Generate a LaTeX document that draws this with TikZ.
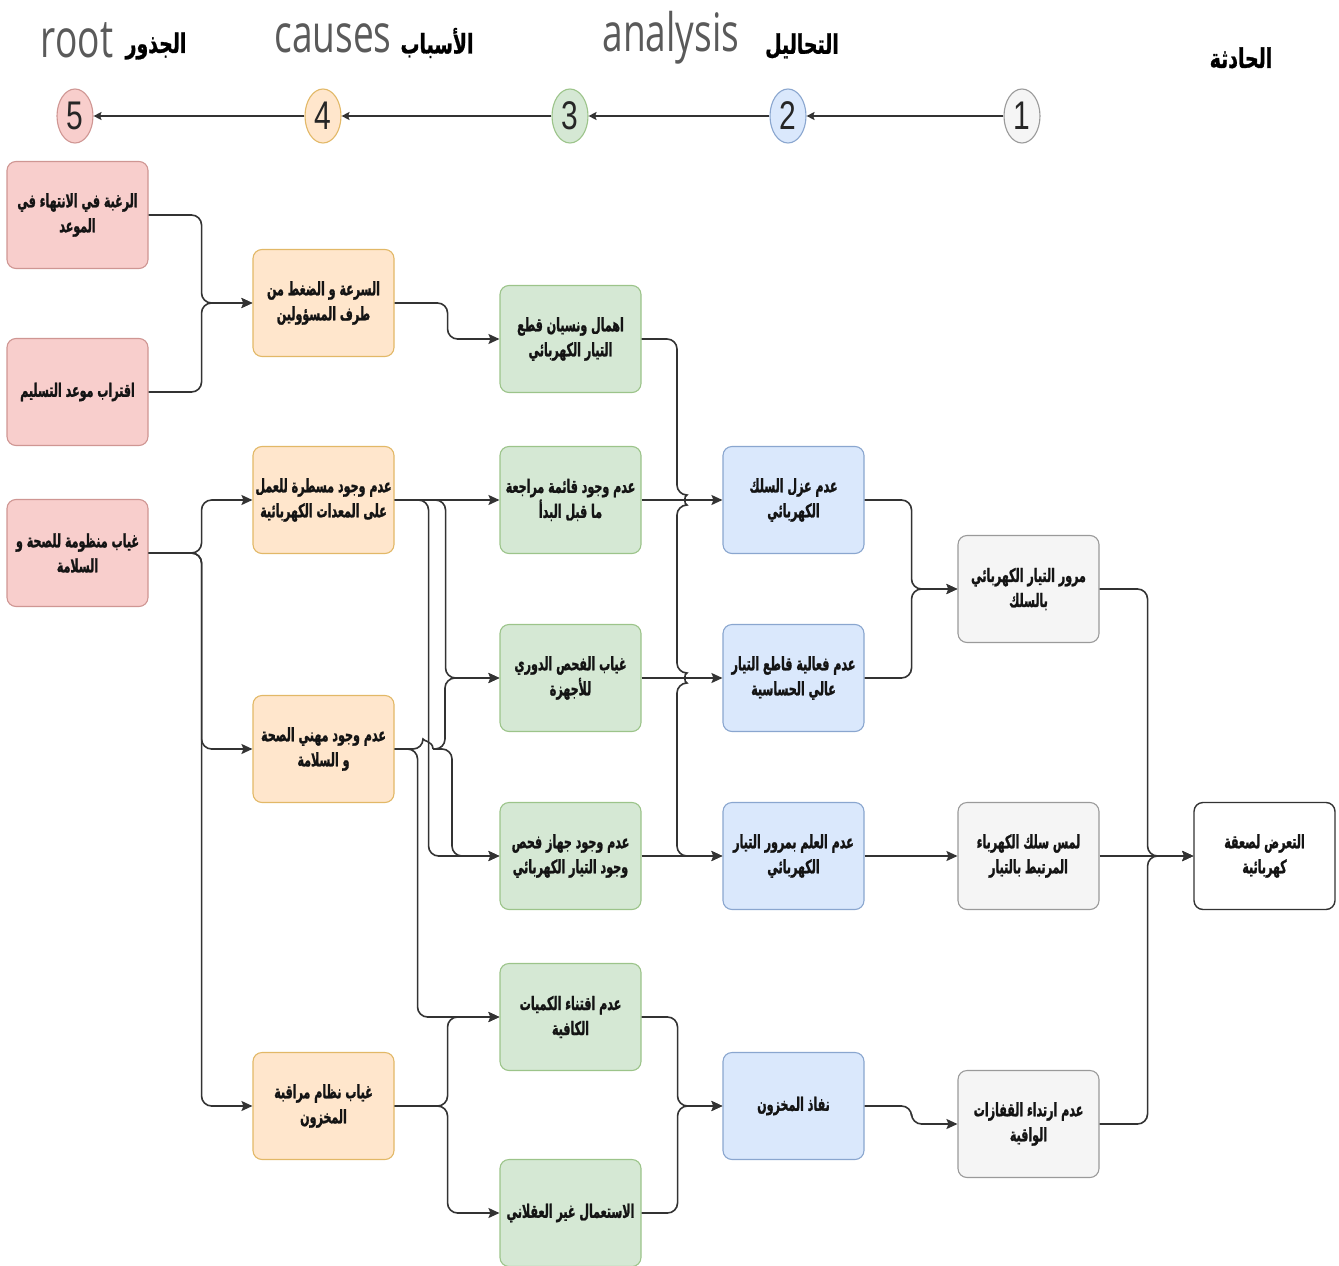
\documentclass[tikz,border=0pt]{standalone}
\usepackage{fontspec}
\usetikzlibrary{arrows.meta,shapes.geometric}
\TeXXeTstate=1
\newfontfamily\arabicfont[Script=Arabic,FakeStretch=0.6,BoldFeatures={FakeBold=1.3}]{DejaVu Sans}
\newfontfamily\arabichead[Script=Arabic,FakeStretch=0.7,BoldFeatures={FakeBold=1}]{DejaVu Sans}
\newfontfamily\headfont[FakeStretch=0.7]{Open Sans}
\newfontfamily\digitfont[FakeStretch=0.75]{Liberation Sans}
\newcommand{\RL}[1]{\beginR #1\endR}

\definecolor{pinkF}{HTML}{F8CECC}
\definecolor{pinkD}{HTML}{CF9693}
\definecolor{orangeF}{HTML}{FFE6CC}
\definecolor{orangeD}{HTML}{E2B867}
\definecolor{greenF}{HTML}{D5E8D4}
\definecolor{greenD}{HTML}{9CC48A}
\definecolor{blueF}{HTML}{DAE8FC}
\definecolor{blueD}{HTML}{8AA6CF}
\definecolor{grayF}{HTML}{F5F5F5}
\definecolor{grayD}{HTML}{9A9A9A}
\definecolor{lineC}{HTML}{333333}
\definecolor{headC}{HTML}{5A5A5A}

\tikzset{
  box/.style={draw, rounded corners=9pt, minimum width=141pt, minimum height=107pt,
    align=center, inner sep=1pt, line width=1.1pt, text=black!92,
    font=\arabicfont\bfseries\fontsize{18.5}{25}\selectfont},
  rootbox/.style={box, fill=pinkF, draw=pinkD},
  causebox/.style={box, fill=orangeF, draw=orangeD},
  anbox/.style={box, fill=greenF, draw=greenD},
  factbox/.style={box, fill=blueF, draw=blueD},
  evbox/.style={box, fill=grayF, draw=grayD},
  topbox/.style={box, fill=white, draw=lineC, line width=1.4pt},
  stage/.style={ellipse, draw, line width=1.1pt, minimum width=36pt, minimum height=54pt,
    inner sep=0pt, font=\digitfont\fontsize{40}{40}\selectfont, text=black!85},
  link/.style={draw=lineC, line width=1.6pt, rounded corners=10pt,
    -{Stealth[length=11pt,width=10pt,inset=2pt]}},
  trunk/.style={draw=lineC, line width=1.6pt, rounded corners=10pt},
  hlink/.style={draw=lineC, line width=1.5pt, -{Stealth[length=8pt,width=8pt,inset=1.5pt]}},
  engl/.style={font=\headfont\fontsize{53}{53}\selectfont, text=headC, inner sep=0pt},
  arhead/.style={font=\arabichead\bfseries\fontsize{27}{27}\selectfont, text=black, inner sep=0pt},
}

\begin{document}
\begin{tikzpicture}[x=1pt,y=-1pt]
\useasboundingbox (0,0) rectangle (1339,1266);

% column titles
\node[engl] (t5) at (77,40) {root};
\node[arhead] (a5) at (156,46) {\RL{الجذور}};
\node[engl] (t4) at (333,38) {causes};
\node[arhead] (a4) at (437,43) {\RL{الأسباب}};
\node[engl] (t3) at (671,38) {analysis};
\node[arhead] (a3) at (802,46) {\RL{التحاليل}};
\node[arhead] (a1) at (1241,58) {\RL{الحادثة}};

% stage markers
\node[stage, fill=pinkF, draw=pinkD] (c5) at (75,116) {5};
\node[stage, fill=orangeF, draw=orangeD] (c4) at (323,116) {4};
\node[stage, fill=greenF, draw=greenD] (c3) at (570,116) {3};
\node[stage, fill=blueF, draw=blueD] (c2) at (788,116) {2};
\node[stage, fill=grayF, draw=grayD] (c1) at (1022,116) {1};
\draw[hlink] (c1.west) -- (c2.east);
\draw[hlink] (c2.west) -- (c3.east);
\draw[hlink] (c3.west) -- (c4.east);
\draw[hlink] (c4.west) -- (c5.east);

% root causes
\node[rootbox] (r1) at (77.5,215) {\RL{الرغبة في الانتهاء في}\\\RL{الموعد}};
\node[rootbox] (r2) at (77.5,392) {\RL{اقتراب موعد التسليم}};
\node[rootbox] (r3) at (77.5,553) {\RL{غياب منظومة للصحة و}\\\RL{السلامة}};

% causes
\node[causebox] (o1) at (323.5,303) {\RL{السرعة و الضغط من}\\\RL{طرف المسؤولين}};
\node[causebox] (o2) at (323.5,500) {\RL{عدم وجود مسطرة للعمل}\\\RL{على المعدات الكهربائية}};
\node[causebox] (o3) at (323.5,749) {\RL{عدم وجود مهني الصحة}\\\RL{و السلامة}};
\node[causebox] (o4) at (323.5,1106) {\RL{غياب نظام مراقبة}\\\RL{المخزون}};

% analysis
\node[anbox] (g1) at (570.5,339) {\RL{اهمال ونسيان قطع}\\\RL{التيار الكهربائي}};
\node[anbox] (g2) at (570.5,500) {\RL{عدم وجود قائمة مراجعة}\\\RL{ما قبل البدأ}};
\node[anbox] (g3) at (570.5,678) {\RL{غياب الفحص الدوري}\\\RL{للأجهزة}};
\node[anbox] (g4) at (570.5,856) {\RL{عدم وجود جهاز فحص}\\\RL{وجود التيار  الكهربائي}};
\node[anbox] (g5) at (570.5,1017) {\RL{عدم اقتناء الكميات}\\\RL{الكافية}};
\node[anbox] (g6) at (570.5,1213) {\RL{الاستعمال غير العقلاني}};

% facts
\node[factbox] (b1) at (793.5,500) {\RL{عدم عزل السلك}\\\RL{الكهربائي}};
\node[factbox] (b2) at (793.5,678) {\RL{عدم فعالية قاطع التيار}\\\RL{عالي الحساسية}};
\node[factbox] (b3) at (793.5,856) {\RL{عدم العلم بمرور التيار}\\\RL{الكهربائي}};
\node[factbox] (b4) at (793.5,1106) {\RL{نفاذ المخزون}};

% events
\node[evbox] (w1) at (1028.5,589) {\RL{مرور التيار الكهربائي}\\\RL{بالسلك}};
\node[evbox] (w2) at (1028.5,856) {\RL{لمس سلك الكهرباء}\\\RL{المرتبط بالتيار}};
\node[evbox] (w3) at (1028.5,1124) {\RL{عدم ارتداء القفازات}\\\RL{الواقية}};

% incident
\node[topbox] (f) at (1264.5,856) {\RL{التعرض لصعقة}\\\RL{كهربائية}};

% roots -> causes
\draw[link] (r1.east) -- ++(53,0) |- (o1.west);
\draw[link] (r2.east) -- ++(53,0) |- (o1.west);
\draw[link] (r3.east) -- ++(53,0) |- (o2.west);
\draw[link] (r3.east) -- ++(53,0) |- (o3.west);
\draw[link] (r3.east) -- ++(53,0) |- (o4.west);

% causes -> analysis
\draw[link] (o1.east) -- ++(53,0) |- (g1.west);
\draw[link] (o2.east) -- (g2.west);
\draw[link] (o2.east) -- ++(51,0) |- (g3.west);
\draw[link] (o2.east) -- ++(34,0) |- (g4.west);
\draw[link] (o3.east) -- ++(23,0) |- (g5.west);
\coordinate (o3jump) at (433,749);
\draw[trunk] (o3.east) -- (423,749) .. controls (423,741) and (433,741) .. (o3jump);
\draw[link] (o3jump) -- ++(12,0) |- (g3.west);
\draw[link] (o3jump) -- ++(19,0) |- (g4.west);
\draw[link] (o4.east) -- ++(53,0) |- (g5.west);
\draw[link] (o4.east) -- ++(53,0) |- (g6.west);

% analysis -> facts
\draw[link] (g1.east) -- (677,339) -- (677,495)
  .. controls (684,495) and (684,505) .. (677,505) -- (677,673)
  .. controls (684,673) and (684,683) .. (677,683) -- (677,856) -- (b3.west);
\draw[link] (g2.east) -- (b1.west);
\draw[link] (g3.east) -- (b2.west);
\draw[link] (g4.east) -- (b3.west);
\draw[link] (g5.east) -- ++(36,0) |- (b4.west);
\draw[link] (g6.east) -- ++(36,0) |- (b4.west);

% facts -> events
\draw[link] (b1.east) -- ++(47,0) |- (w1.west);
\draw[link] (b2.east) -- ++(47,0) |- (w1.west);
\draw[link] (b3.east) -- (w2.west);
\draw[link] (b4.east) -- ++(47,0) |- (w3.west);

% events -> incident
\draw[link] (w1.east) -- ++(48,0) |- (f.west);
\draw[link] (w2.east) -- (f.west);
\draw[link] (w3.east) -- ++(48,0) |- (f.west);
\end{tikzpicture}
\end{document}
